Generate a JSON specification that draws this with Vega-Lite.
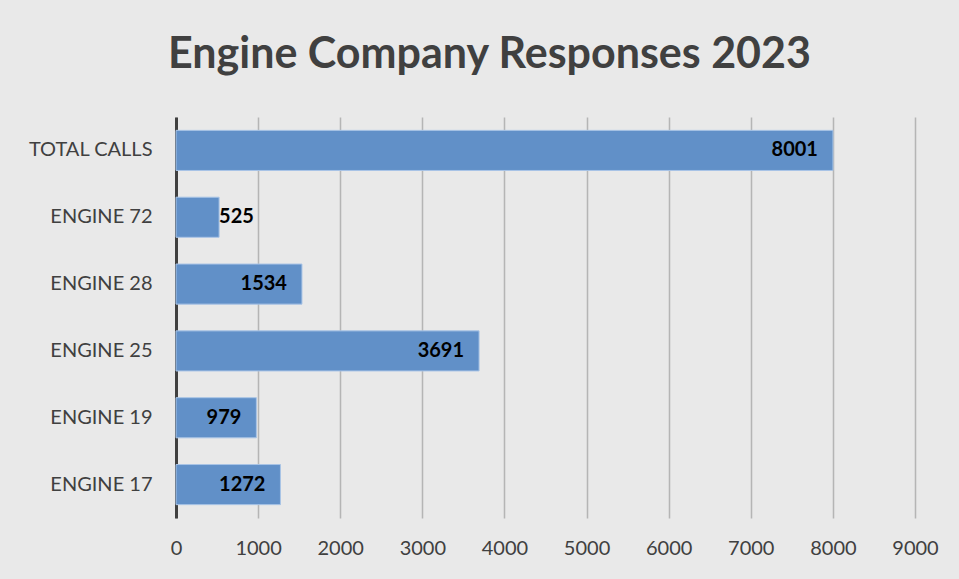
{
  "$schema": "https://vega.github.io/schema/vega-lite/v6.json",
  "autosize": {"type": "none"},
  "width": 739,
  "height": 401,
  "padding": {"left": 176, "top": 117, "right": 44, "bottom": 61},
  "background": "#e9e9e9",
  "title": {
    "text": "Engine Company Responses 2023",
    "font": "Lato",
    "fontSize": 43,
    "fontWeight": "bold",
    "color": "#404040",
    "anchor": "middle",
    "dx": -56,
    "offset": 40
  },
  "config": {
    "view": {"stroke": null},
    "font": "Lato"
  },
  "data": {
    "values": [
      {"unit": "TOTAL CALLS", "calls": 8001},
      {"unit": "ENGINE 72", "calls": 525},
      {"unit": "ENGINE 28", "calls": 1534},
      {"unit": "ENGINE 25", "calls": 3691},
      {"unit": "ENGINE 19", "calls": 979},
      {"unit": "ENGINE 17", "calls": 1272}
    ]
  },
  "encoding": {
    "y": {
      "field": "unit",
      "type": "nominal",
      "sort": null,
      "scale": {"paddingInner": 0.4, "paddingOuter": 0.2},
      "axis": {
        "title": null,
        "ticks": false,
        "grid": false,
        "domainColor": "#404040",
        "domainWidth": 3,
        "labelFont": "Lato",
        "labelFontSize": 20,
        "labelColor": "#404040",
        "labelPadding": 24
      }
    },
    "x": {
      "field": "calls",
      "type": "quantitative",
      "scale": {"domain": [0, 9000], "nice": false},
      "axis": {
        "title": null,
        "values": [0, 1000, 2000, 3000, 4000, 5000, 6000, 7000, 8000, 9000],
        "format": "d",
        "domain": false,
        "ticks": false,
        "grid": true,
        "gridColor": "#b5b5b5",
        "gridWidth": 1.5,
        "labelFont": "Lato",
        "labelFontSize": 20,
        "labelColor": "#404040",
        "labelPadding": 20,
        "labelFlush": false
      }
    }
  },
  "layer": [
    {
      "mark": {"type": "bar", "fill": "#6190c8", "stroke": "#a9c4e6", "strokeWidth": 1}
    },
    {
      "transform": [{"filter": "datum.calls >= 700"}],
      "mark": {"type": "text", "align": "right", "baseline": "middle", "dx": -15, "font": "Lato", "fontSize": 20, "fontWeight": "bold", "color": "#000000"},
      "encoding": {"text": {"field": "calls", "type": "quantitative", "format": "d"}}
    },
    {
      "transform": [{"filter": "datum.calls < 700"}],
      "mark": {"type": "text", "align": "left", "baseline": "middle", "dx": 0, "font": "Lato", "fontSize": 20, "fontWeight": "bold", "color": "#000000"},
      "encoding": {"text": {"field": "calls", "type": "quantitative", "format": "d"}}
    }
  ]
}
